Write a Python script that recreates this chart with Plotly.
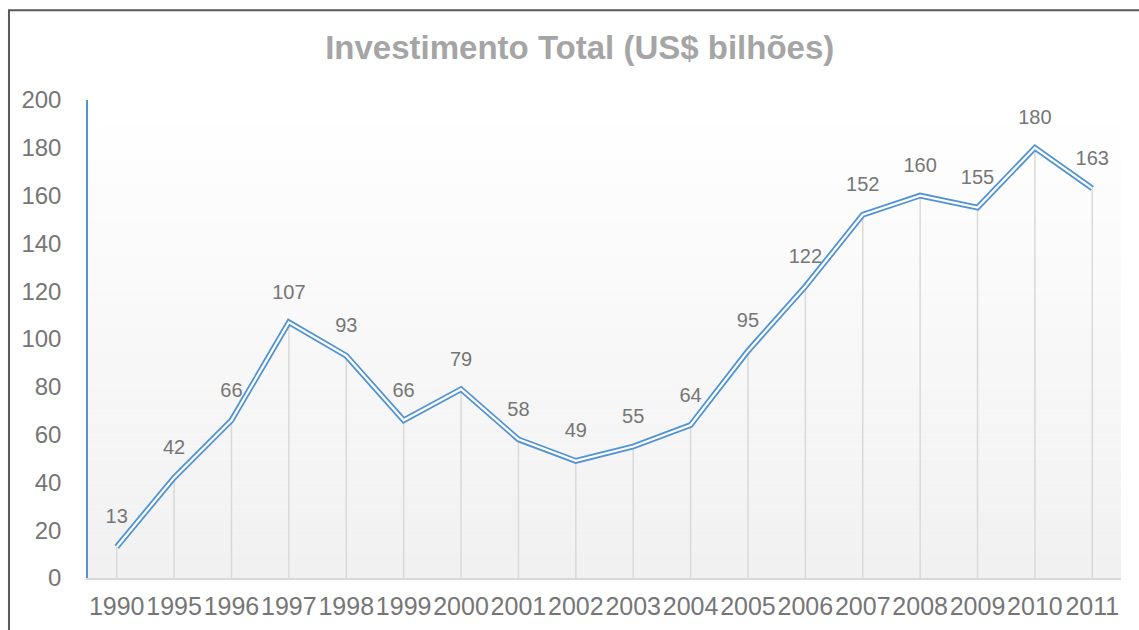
import plotly.graph_objects as go

years = ["1990", "1995", "1996", "1997", "1998", "1999", "2000", "2001", "2002",
         "2003", "2004", "2005", "2006", "2007", "2008", "2009", "2010", "2011"]
investimento = [13, 42, 66, 107, 93, 66, 79, 58, 49, 55, 64, 95, 122, 152, 160, 155, 180, 163]
y_ticks = [0, 20, 40, 60, 80, 100, 120, 140, 160, 180, 200]
title_text = "Investimento Total (US$ bilhões)"

FONT = "Liberation Sans, Arial, sans-serif"
BLUE = "#5193d3"
GRAY_TXT = "#767676"

fig = go.Figure()

# drop lines from points to the axis
fig.add_trace(go.Scatter(
    x=years, y=investimento, mode="markers",
    marker=dict(size=1, color="rgba(0,0,0,0)"),
    error_y=dict(type="data", symmetric=False, array=[0] * len(investimento),
                 arrayminus=investimento, width=0, thickness=1.5, color="#d9d9d9"),
    hoverinfo="skip", showlegend=False,
))
# outer blue line
fig.add_trace(go.Scatter(
    x=years, y=investimento, mode="lines",
    line=dict(color=BLUE, width=5.8), showlegend=False,
))
# inner white line (double-line effect)
fig.add_trace(go.Scatter(
    x=years, y=investimento, mode="lines",
    line=dict(color="white", width=2.2), showlegend=False, hoverinfo="skip",
))
# data labels
fig.add_trace(go.Scatter(
    x=years, y=investimento, mode="text+markers",
    marker=dict(size=28, color="rgba(0,0,0,0)"),
    text=[str(v) for v in investimento], textposition="top center",
    textfont=dict(family=FONT, size=20, color=GRAY_TXT),
    showlegend=False, hoverinfo="skip",
))

# background gradient of the plot area (white at top -> light grey at bottom)
shapes = []
n = 40
for i in range(n):
    t = i / (n - 1)
    c = int(round(255 - (255 - 241) * t))
    y1 = 200 - 200 * i / n
    y0 = 200 - 200 * (i + 1) / n
    shapes.append(dict(type="rect", xref="paper", yref="y", x0=0, x1=1, y0=y0, y1=y1,
                       fillcolor=f"rgb({c},{c},{c})", line=dict(width=0), layer="below"))
# outer chart border
shapes.append(dict(type="rect", xref="paper", yref="paper", x0=-0.0765, x1=1.2,
                   y0=-0.3, y1=1.188, line=dict(color="#595959", width=2),
                   fillcolor="rgba(0,0,0,0)", layer="above"))

fig.update_layout(
    width=1139, height=630,
    margin=dict(l=88, r=18, t=100, b=52, autoexpand=False),
    paper_bgcolor="white", plot_bgcolor="white",
    shapes=shapes,
    title=dict(text=f"<b>{title_text}</b>", x=0.509, xanchor="center", y=0.924, yanchor="middle",
               font=dict(family=FONT, size=33, color="#a5a5a5")),
    xaxis=dict(type="category", range=[-0.5, len(years) - 0.5], showgrid=False,
               showline=True, linecolor="#d9d9d9", linewidth=1.5, ticks="",
               tickangle=0, automargin=False,
               tickfont=dict(family=FONT, size=25, color=GRAY_TXT), ticklabelstandoff=5,
               zeroline=False, fixedrange=True),
    yaxis=dict(range=[0, 200], tickvals=y_ticks, showgrid=False, zeroline=False,
               showline=True, linecolor=BLUE, linewidth=1.5, ticks="", automargin=False,
               tickfont=dict(family=FONT, size=24, color=GRAY_TXT), ticklabelstandoff=20),
    showlegend=False,
)

fig.write_html("out.html", config={"displayModeBar": False},
               post_script="document.body.style.margin='0';document.body.style.overflow='hidden';")
